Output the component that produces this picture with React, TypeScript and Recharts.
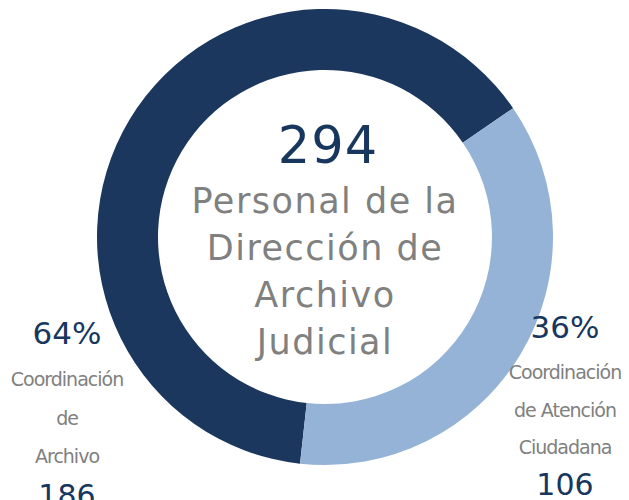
import { Pie, PieChart, Cell } from "recharts";

const categories = ["Coordinación de Archivo", "Coordinación de Atención Ciudadana"];
const labelLines = [
  ["Coordinación", "de", "Archivo"],
  ["Coordinación", "de Atención", "Ciudadana"],
];
const values = [186, 106];
const colors = ["#1b375e", "#95b3d7"];
// the headline figure as printed on the slide
const headcountTotal = 294;
const centerTitle = ["Personal de la", "Dirección de", "Archivo", "Judicial"];

const NAVY = "#17375e";
const GRAY = "#808080";
const FONT = "'Century Gothic', 'DejaVu Sans', sans-serif";

// hand-placed label blocks, offsets from the pie centre
const labelPos = [
  { dx: -258, pct: 96, lines: [142, 181, 219], val: 258 },
  { dx: 240, pct: 90, lines: [135, 173, 210], val: 247 },
];

const data = categories.map((name, i) => ({ name, value: values[i] }));

function renderLabel(props: any) {
  const { cx, cy, index, percent, value } = props;
  const p = labelPos[index];
  const x = cx + p.dx;
  return (
    <g>
      <text x={x} y={cy + p.pct} textAnchor="middle" dominantBaseline="central" fill={NAVY} fontSize={31} fontFamily={FONT}>
        {Math.round(percent * 100)}%
      </text>
      {labelLines[index].map((line, j) => (
        <text
          key={j}
          x={x}
          y={cy + p.lines[j]}
          textAnchor="middle"
          dominantBaseline="central"
          fill={GRAY}
          fontSize={19}
          letterSpacing={-1}
          fontFamily={FONT}
        >
          {line}
        </text>
      ))}
      <text x={x} y={cy + p.val} textAnchor="middle" dominantBaseline="central" fill={NAVY} fontSize={30} fontFamily={FONT}>
        {value}
      </text>
    </g>
  );
}

const CX = 317;
const CY = 229;

export default function App() {
  return (
    <PieChart width={621} height={492} margin={{ top: 0, right: 0, bottom: 0, left: 0 }}>
      <Pie
        data={data}
        dataKey="value"
        nameKey="name"
        cx={CX}
        cy={CY}
        innerRadius={167}
        outerRadius={228}
        startAngle={34.4}
        endAngle={394.4}
        stroke="none"
        label={renderLabel}
        labelLine={false}
        isAnimationActive={false}
      >
        {data.map((d, i) => (
          <Cell key={d.name} fill={colors[i]} />
        ))}
      </Pie>
      <text x={CX + 3} y={CY - 74} textAnchor="middle" fill={NAVY} fontSize={51} letterSpacing={1} fontFamily={FONT}>
        {headcountTotal}
      </text>
      {centerTitle.map((line, i) => (
        <text
          key={line}
          x={CX}
          y={CY - 24 + i * 47}
          textAnchor="middle"
          fill={GRAY}
          fontSize={35}
          letterSpacing={1.5}
          fontFamily={FONT}
        >
          {line}
        </text>
      ))}
    </PieChart>
  );
}
